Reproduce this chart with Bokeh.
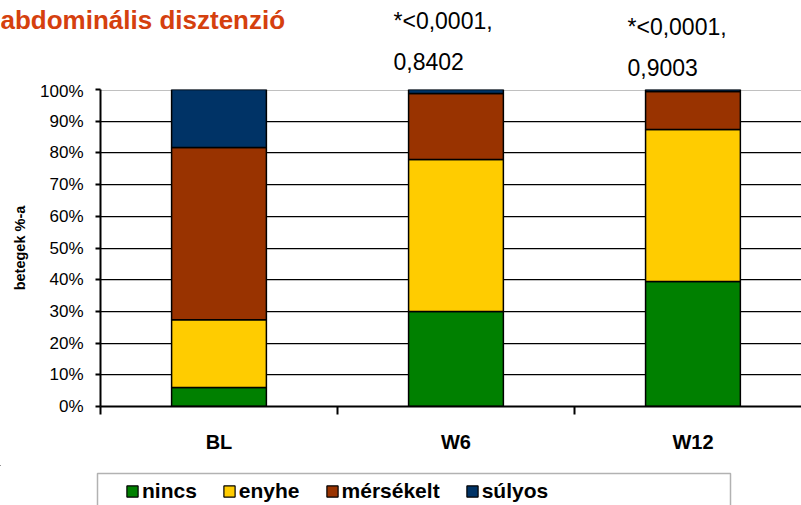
from bokeh.plotting import figure
from bokeh.layouts import column
from bokeh.models import (ColumnDataSource, Range1d, FixedTicker, PrintfTickFormatter,
                          Legend, LegendItem, Label, Grid, BoxAnnotation)
from bokeh.embed import file_html
from bokeh.resources import INLINE

# ---- data ----
categories = ["BL", "W6", "W12"]
series = ["nincs", "enyhe", "mérsékelt", "súlyos"]
nincs = [6.0, 30.0, 39.4]
enyhe = [21.4, 47.9, 48.0]
mersekelt = [54.3, 20.8, 12.0]
sulyos = [18.3, 1.3, 0.6]
colors = ["#008000", "#FFCC00", "#993300", "#003366"]
y_ticks = [0, 10, 20, 30, 40, 50, 60, 70, 80, 90, 100]
title_text = "abdominális disztenzió"
y_label = "betegek %-a"
pvals_w6 = ["*<0,0001,", "0,8402"]
pvals_w12 = ["*<0,0001,", "0,9003"]

FONT = "Liberation Sans"
W = 801
HEADER_H = 81
FOOTER_H = 40
MAIN_H = 505 - HEADER_H - FOOTER_H

xs = [i + 0.5 for i in range(len(categories))]
boundaries = list(range(len(categories) + 1))

src = ColumnDataSource(dict(x=xs, cat=categories, nincs=nincs, enyhe=enyhe,
                            **{"mérsékelt": mersekelt, "súlyos": sulyos}))


def no_align(f):
    try:
        f.frame_align = False
    except Exception:
        pass
    return f


def blank(height):
    f = figure(width=W, height=height, x_range=Range1d(0, W), y_range=Range1d(height, 0),
               output_backend="svg", toolbar_location=None,
               x_axis_location=None, y_axis_location=None,
               min_border=0, outline_line_color=None,
               background_fill_color="white", border_fill_color="white")
    f.grid.visible = False
    return no_align(f)


# ---- header: title and p-values (pixel coordinates of the header, text middles) ----
header = blank(HEADER_H)
header.add_layout(Label(x=0, y=19, text=title_text,
                        text_font=FONT, text_font_style="bold", text_font_size="26px",
                        text_color="#D5400E", text_baseline="middle"))
for (x0, ys), lines in zip([(393, (20, 61)), (627, (26, 67))], [pvals_w6, pvals_w12]):
    for yy, t in zip(ys, lines):
        header.add_layout(Label(x=x0, y=yy, text=t,
                                text_font=FONT, text_font_size="23px", text_color="black",
                                text_baseline="middle"))

# ---- main chart ----
p = figure(width=W, height=MAIN_H,
           x_range=Range1d(0, 2.958), y_range=Range1d(0, 100),
           output_backend="svg", toolbar_location=None,
           min_border_left=100, min_border_right=0, min_border_top=8, min_border_bottom=59,
           background_fill_color="white", border_fill_color="white",
           outline_line_color=None)
no_align(p)

p.extra_y_ranges = {"shadow": Range1d(0.32, 100.32)}

p.xgrid.visible = False
p.ygrid.ticker = FixedTicker(ticks=y_ticks)
p.ygrid.grid_line_color = "black"
p.ygrid.grid_line_width = 1
shadow_grid = Grid(dimension=1, ticker=FixedTicker(ticks=y_ticks), y_range_name="shadow",
                   grid_line_color="#c0c0c0", grid_line_width=1, level="underlay")
p.add_layout(shadow_grid)

renderers = p.vbar_stack(series, x="x", width=0.4, source=src,
                         fill_color=colors, line_color="black", line_width=1.5)

ya = p.yaxis[0]
ya.ticker = FixedTicker(ticks=y_ticks)
ya.formatter = PrintfTickFormatter(format="%d%%")
ya.axis_line_width = 2
ya.axis_line_color = "black"
ya.major_tick_out = 5
ya.major_tick_in = 0
ya.major_tick_line_width = 2
ya.minor_tick_out = 0
ya.minor_tick_in = 0
ya.major_label_standoff = 12
ya.major_label_text_font = FONT
ya.major_label_text_font_size = "17px"
ya.major_label_text_color = "black"
ya.axis_label = y_label
ya.axis_label_text_font = FONT
ya.axis_label_text_font_style = "bold"
ya.axis_label_text_font_size = "14.5px"
ya.axis_label_text_color = "black"
ya.axis_label_standoff = 9

xa = p.xaxis[0]
xa.ticker = FixedTicker(ticks=xs, minor_ticks=boundaries)
xa.major_label_overrides = {x: c for x, c in zip(xs, categories)}
xa.axis_line_width = 2
xa.axis_line_color = "black"
xa.major_tick_out = 0
xa.major_tick_in = 0
xa.minor_tick_out = 8
xa.minor_tick_in = 0
xa.minor_tick_line_width = 2
xa.minor_tick_line_color = "black"
xa.major_label_standoff = 16
xa.major_label_text_font = FONT
xa.major_label_text_font_style = "bold"
xa.major_label_text_font_size = "20px"
xa.major_label_text_color = "black"

# ---- footer: legend frame + legend (swatch proxies sit outside the visible range) ----
footer = blank(FOOTER_H)
footer.add_layout(BoxAnnotation(left=97, right=730, top=8, bottom=60,
                                fill_color="white", fill_alpha=1,
                                line_color="black", line_width=1.5))
swatches = [footer.vbar(x=[-1000], top=[0], bottom=[0], width=1,
                        fill_color=c, line_color="black", line_width=1.2)
            for c in colors]
legend = Legend(items=[LegendItem(label=s, renderers=[r]) for s, r in zip(series, swatches)],
                location=(125, 2), orientation="horizontal",
                border_line_color=None, background_fill_alpha=0,
                padding=6, spacing=25, margin=0,
                glyph_width=14, glyph_height=14, label_standoff=3,
                label_text_font=FONT, label_text_font_style="bold",
                label_text_font_size="21px", label_text_color="black")
footer.add_layout(legend)

layout = column(header, p, footer, spacing=0)
open("out.html", "w").write(file_html(layout, INLINE, title="abdominális disztenzió"))
